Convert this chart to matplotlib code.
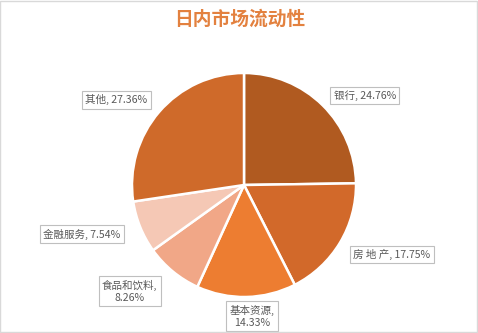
import matplotlib
matplotlib.use("Agg")
import matplotlib.pyplot as plt

plt.rcParams['font.family'] = ['Noto Sans CJK SC', 'DejaVu Sans']

# Sector shares of intraday market liquidity (%)
sectors = ["银行", "房 地 产", "基本资源", "食品和饮料", "金融服务", "其他"]
shares = [24.76, 17.75, 14.33, 8.26, 7.54, 27.36]
colors = ["#B05A20", "#D2692A", "#ED7D31", "#F1A787", "#F5C8B5", "#CF6A2A"]

# label anchor points (pie-radius units) and line breaks
label_pos = [(1.08, 0.80), (1.32, -0.62), (0.07, -1.17),
             (-1.02, -0.95), (-1.45, -0.44), (-1.14, 0.76)]
label_break = [False, False, True, True, False, False]

W, H = 478, 333
cx, cy, r = 244, 185, 112

fig = plt.figure(figsize=(W / 100, H / 100), dpi=100)
fig.patch.set_facecolor("white")
ax = fig.add_axes([0, 0, 1, 1])

ax.pie(shares, colors=colors, startangle=90, counterclock=False,
       radius=1.0, center=(0, 0), frame=True,
       wedgeprops=dict(edgecolor="white", linewidth=1.8))
ax.set_xlim((0 - cx) / r, (W - cx) / r)
ax.set_ylim((cy - H) / r, cy / r)
ax.set_aspect("auto")
ax.axis("off")

for name, val, (lx, ly), brk in zip(sectors, shares, label_pos, label_break):
    sep = ",\n" if brk else ", "
    ax.text(lx, ly, f"{name}{sep}{val:.2f}%", ha="center", va="center",
            fontsize=7.6, color="#595959", linespacing=1.25,
            bbox=dict(boxstyle="square,pad=0.32", facecolor="white",
                      edgecolor="#BFBFBF", linewidth=0.8))

fig.text(240 / W, 1 - 19 / H, "日内市场流动性", ha="center", va="center",
         fontsize=13.5, fontweight="bold", color="#E3813F")

# light frame around the chart area
fig.add_artist(plt.Rectangle((0.001, 0.002), 0.997, 0.995,
                             transform=fig.transFigure, fill=False,
                             edgecolor="#D9D9D9", linewidth=1.0))

fig.savefig("out.png", dpi=100, facecolor="white")
